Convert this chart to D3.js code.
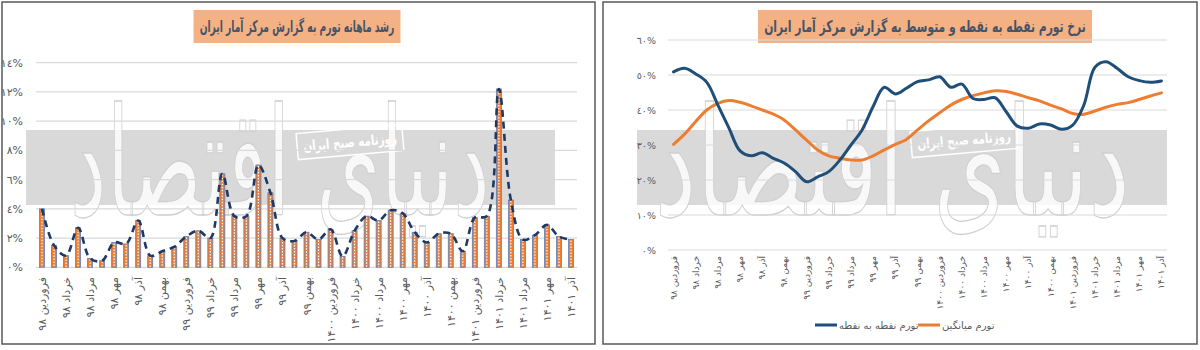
<!DOCTYPE html>
<html>
<head>
<meta charset="utf-8">
<script src="https://cdn.jsdelivr.net/npm/d3@7"></script>
<style>
  body { margin: 0; background: #fff; }
  svg { display: block; font-family: "DejaVu Sans", sans-serif; }
</style>
</head>
<body>
<svg id="chart" width="1200" height="350"></svg>
<script>
// categories: فروردین ۹۸ تا آذر ۱۴۰۱
const monthNames = ["فروردین", "اردیبهشت", "خرداد", "تیر", "مرداد", "شهریور", "مهر", "آبان", "آذر", "دی", "بهمن", "اسفند"];
const years = ["۹۸", "۹۹", "۱۴۰۰", "۱۴۰۱"];
const monthCount = 45;

// رشد ماهانه تورم (%)
const monthlyGrowth = [4.0, 1.5, 0.8, 2.7, 0.6, 0.45, 1.7, 1.6, 3.2, 0.8, 1.1, 1.4,
  2.1, 2.5, 2.0, 6.4, 3.5, 3.5, 7.0, 5.1, 2.0, 1.8, 2.4, 1.9,
  2.6, 0.75, 2.5, 3.5, 3.2, 3.9, 3.7, 2.4, 1.7, 2.3, 2.3, 1.1,
  3.4, 3.5, 12.2, 4.6, 1.9, 2.2, 2.9, 2.1, 1.9];

// تورم نقطه به نقطه (%)
const pointInflation = [50.9, 51.9, 50.3, 47.9, 41.4, 34.8, 28.3, 26.9, 27.8, 26.2, 24.8, 22.4,
  19.5, 20.9, 22.4, 25.7, 30.0, 34.3, 41.0, 46.5, 44.6, 46.2, 48.1, 48.6,
  49.5, 46.5, 47.4, 43.3, 43.0, 43.5, 39.5, 35.4, 34.8, 36.0, 35.7, 34.5,
  35.7, 41.4, 52.2, 53.8, 51.9, 49.5, 48.4, 47.9, 48.3];

// تورم میانگین (%)
const avgInflation = [30.2, 33.1, 36.7, 40.0, 41.9, 42.7, 42.2, 41.2, 40.0, 38.8, 37.1, 34.3,
  31.4, 28.6, 26.9, 26.2, 25.7, 25.7, 26.9, 28.6, 30.2, 31.6, 34.3, 36.9,
  39.2, 41.4, 43.0, 44.1, 44.9, 45.5, 45.3, 44.5, 43.5, 42.6, 41.4, 40.3,
  39.0, 38.8, 39.7, 40.8, 41.6, 42.1, 43.0, 44.0, 44.9];

const leftTicks = [0, 2, 4, 6, 8, 10, 12, 14];
const rightTicks = [0, 10, 20, 30, 40, 50, 60];

const leftTitle = "رشد ماهانه تورم به گزارش مرکز آمار ایران";
const rightTitle = "نرخ تورم نقطه به نقطه و متوسط به گزارش مرکز آمار ایران";
const legendNames = ["تورم نقطه به نقطه", "تورم میانگین"];
const stampText = "روزنامه صبح ایران";
const logoText = "دنیای اقتصاد";

const categories = d3.range(monthCount).map(i =>
  monthNames[i % 12] + " " + years[Math.floor(i / 12)]);

const arDigits = "٠١٢٣٤٥٦٧٨٩";
const toAr = n => String(n).replace(/[0-9]/g, d => arDigits[+d]);

const svg = d3.select("#chart");

// panels
svg.append("rect").attr("x", 2).attr("y", 2).attr("width", 593).attr("height", 342)
  .attr("fill", "#fff").attr("stroke", "#595959").attr("stroke-width", 1.5);
svg.append("rect").attr("x", 603).attr("y", 2).attr("width", 594).attr("height", 342)
  .attr("fill", "#fff").attr("stroke", "#595959").attr("stroke-width", 1.5);

function drawTitle(text, cx, boxW) {
  const g = svg.append("g");
  g.append("rect").attr("x", cx - boxW / 2).attr("y", 10).attr("width", boxW).attr("height", 33)
    .attr("fill", "#f4b183");
  const t = g.append("text").attr("text-anchor", "middle")
    .attr("fill", "#44546a").style("font-size", "16px").style("font-weight", "bold").text(text);
  const w = t.node().getComputedTextLength();
  const sx = Math.min(1, (boxW - 12) / w);
  t.attr("transform", `translate(${cx},32) scale(${sx},1)`);
}

function drawWatermark(x0, x1, stampX, stampY, logoX0, logoX1) {
  const g = svg.append("g");
  g.append("rect").attr("x", x0).attr("y", 130).attr("width", x1 - x0).attr("height", 75)
    .attr("fill", "#d9d9d9");
  const logo = g.append("text").attr("x", 0).attr("y", 0)
    .attr("fill", "#ffffff").attr("fill-opacity", 0.8)
    .attr("stroke", "#cfcfcf").attr("stroke-width", 1.1)
    .style("font-size", "130px").text(logoText);
  const lw = logo.node().getComputedTextLength();
  const sx = (logoX1 - logoX0) / lw;
  logo.attr("transform", `translate(${logoX0},215) scale(${sx},1.15)`);
  const s = g.append("g").attr("transform", `translate(${stampX},${stampY}) rotate(-5)`);
  s.append("rect").attr("x", -53).attr("y", -13).attr("width", 106).attr("height", 26)
    .attr("fill", "none").attr("stroke", "#ffffff").attr("stroke-width", 1.5);
  const st = s.append("text").attr("text-anchor", "middle").attr("fill", "#ffffff")
    .style("font-size", "14px").style("font-weight", "bold").text(stampText);
  const sw = st.node().getComputedTextLength();
  st.attr("transform", `translate(0,5) scale(${Math.min(1, 94 / sw)},1)`);
}

// ---------- left chart ----------
const xL = d3.scaleBand().domain(d3.range(monthCount)).range([36, 577]);
const yL = d3.scaleLinear().domain([0, 14]).range([267.3, 62.7]);

drawTitle(leftTitle, 297, 207);
drawWatermark(26, 555, 350, 142, 70, 490);

svg.append("g").selectAll("line").data(leftTicks).join("line")
  .attr("x1", 36).attr("x2", 577).attr("y1", d => yL(d)).attr("y2", d => yL(d))
  .attr("stroke", "#d9d9d9").attr("stroke-width", 1.2);

svg.append("g").selectAll("text").data(leftTicks).join("text")
  .attr("x", 23).attr("y", d => yL(d) + 4).attr("text-anchor", "end")
  .attr("fill", "#595959").style("font-size", "11px").text(d => toAr(d) + "%");

const barW = 5;
const bars = svg.append("g").selectAll("g").data(monthlyGrowth).join("g");
bars.append("rect")
  .attr("x", (d, i) => xL(i) + xL.bandwidth() / 2 - barW / 2)
  .attr("y", d => yL(d)).attr("width", barW).attr("height", d => yL(0) - yL(d))
  .attr("fill", "#ed7d31").attr("stroke", "#5b7fc0").attr("stroke-width", 0.8);
bars.append("line")
  .attr("x1", (d, i) => xL(i) + xL.bandwidth() / 2).attr("x2", (d, i) => xL(i) + xL.bandwidth() / 2)
  .attr("y1", d => yL(d) + 1).attr("y2", yL(0))
  .attr("stroke", "#ffffff").attr("stroke-width", 1.2).attr("stroke-dasharray", "1.5,1.5");

const lineL = d3.line()
  .x((d, i) => xL(i) + xL.bandwidth() / 2).y(d => yL(d))
  .curve(d3.curveCatmullRom.alpha(0.5));
svg.append("path").datum(monthlyGrowth).attr("d", lineL)
  .attr("fill", "none").attr("stroke", "#1f3864").attr("stroke-width", 2.6)
  .attr("stroke-dasharray", "7,5");

svg.append("g").selectAll("text").data(categories.filter((d, i) => i % 2 === 0)).join("text")
  .attr("transform", (d, i) => `translate(${xL(i * 2) + xL.bandwidth() / 2 + 4},277) rotate(-90)`)
  .attr("text-anchor", "end").attr("fill", "#595959").style("font-size", "11px").text(d => d);

// ---------- right chart ----------
const xR = d3.scaleBand().domain(d3.range(monthCount)).range([668, 1167]);
const yR = d3.scaleLinear().domain([0, 60]).range([250, 40]);

drawWatermark(637, 1167, 964, 140, 655, 1130);
drawTitle(rightTitle, 925, 334);

svg.append("g").selectAll("line").data(rightTicks).join("line")
  .attr("x1", 668).attr("x2", 1167).attr("y1", d => yR(d)).attr("y2", d => yR(d))
  .attr("stroke", "#d9d9d9").attr("stroke-width", 1.2);

svg.append("g").selectAll("text").data(rightTicks).join("text")
  .attr("x", 656).attr("y", d => yR(d) + 3.5).attr("text-anchor", "end")
  .attr("fill", "#595959").style("font-size", "9.5px").text(d => toAr(d) + "%");

const lineR = d3.line()
  .x((d, i) => xR(i) + xR.bandwidth() / 2).y(d => yR(d))
  .curve(d3.curveCatmullRom.alpha(0.5));
svg.append("path").datum(avgInflation).attr("d", lineR)
  .attr("fill", "none").attr("stroke", "#ed7d31").attr("stroke-width", 3).attr("stroke-linecap", "round");
svg.append("path").datum(pointInflation).attr("d", lineR)
  .attr("fill", "none").attr("stroke", "#1f4e79").attr("stroke-width", 3).attr("stroke-linecap", "round");

svg.append("g").selectAll("text").data(categories.filter((d, i) => i % 2 === 0)).join("text")
  .attr("transform", (d, i) => `translate(${xR(i * 2) + xR.bandwidth() / 2 + 3},256) rotate(-90)`)
  .attr("text-anchor", "end").attr("fill", "#595959").style("font-size", "9px").text(d => d);

// legend
const legendColors = ["#1f4e79", "#ed7d31"];
const legendX = [815, 918];
const lg = svg.append("g").selectAll("g").data(legendNames).join("g")
  .attr("transform", (d, i) => `translate(${legendX[i]},325)`);
lg.append("line").attr("x1", 0).attr("x2", 22).attr("stroke", (d, i) => legendColors[i])
  .attr("stroke-width", 3);
lg.append("text").attr("x", 24).attr("y", 3.5).attr("fill", "#595959")
  .style("font-size", "10px").text(d => d);
</script>
</body>
</html>
